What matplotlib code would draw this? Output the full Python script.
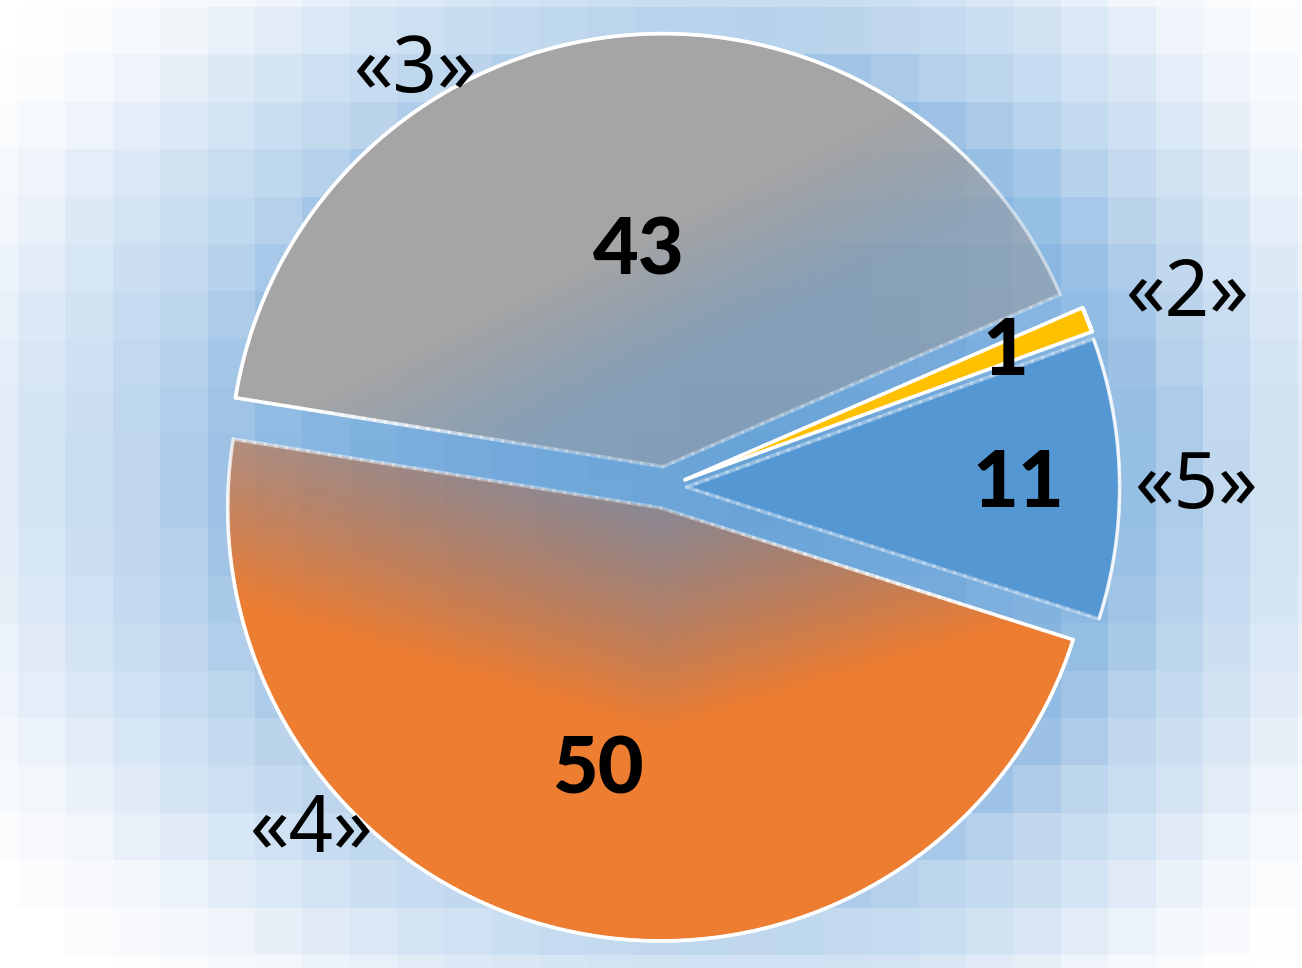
import numpy as np
import matplotlib
matplotlib.use("Agg")
import matplotlib.pyplot as plt
from matplotlib.colors import LinearSegmentedColormap
from matplotlib.collections import LineCollection

# ---------------- data ----------------
labels = ["«3»", "«2»", "«5»", "«4»"]
values = [43, 1, 11, 50]
colors = ["#A5A5A5", "#FFC000", "#5597D3", "#ED7D31"]

# ---------------- style ----------------
W, H = 1302, 968
CENTER = (665.6, 480.5)
RADIUS = 433.0
EXPLODE = 21.0
START = 170.85
NUM_FONT = ["Lato", "DejaVu Sans"]
CAT_FONT = ["Noto Sans", "DejaVu Sans"]
FS_NUM = 57
FS_CAT = 56
# label placement (angle offset from wedge mid-angle, radius factor) - baseline anchor
num_pos = [(0.0, 0.495), (-3.4, 0.826), (-4.3, 0.815), (0.9, 0.723)]
cat_pos = [(25.1, 1.080), (-3.5, 1.270), (-3.3, 1.228), (-30.7, 1.174)]

fig = plt.figure(figsize=(W / 100, H / 100), dpi=100)
ax = fig.add_axes([0, 0, 1, 1])

# ---------------- background mosaic ----------------
bs = 47.4
gx, gy = np.meshgrid(np.arange(W) + 0.5, np.arange(H) + 0.5)
bx = np.floor((gx - 18) / bs) * bs + 18 + bs / 2
by = np.floor((gy - 7) / bs) * bs + 7 + bs / 2
cx, cy = 760, 470
rx = np.where(bx < cx, 760.0, 560.0)
ry = 560.0
V = np.sqrt(((bx - cx) / rx) ** 2 + ((by - cy) / ry) ** 2)
stops = [(0.0, (104, 163, 215)), (0.4, (118, 171, 220)), (0.6, (136, 183, 225)),
         (0.7, (158, 195, 230)), (0.8, (188, 213, 237)), (0.9, (205, 224, 242)),
         (1.0, (224, 235, 247)), (1.1, (243, 247, 252)), (1.25, (255, 255, 255))]
bg_cmap = LinearSegmentedColormap.from_list(
    "bg", [(s / 1.25, tuple(c / 255 for c in col)) for s, col in stops])
ax.imshow(V, cmap=bg_cmap, vmin=0, vmax=1.25, extent=[0, W, 0, H], origin="upper",
          interpolation="nearest", aspect="auto", zorder=0)

# ---------------- pie ----------------
wedges, _ = ax.pie(values, colors=colors, startangle=START, counterclock=False,
                   radius=RADIUS, center=CENTER, explode=[EXPLODE] * len(values),
                   wedgeprops=dict(linewidth=0, edgecolor="none"), frame=True)
for w in wedges:
    c = np.array(w.center, float)
    off = c - np.array(CENTER)
    d = np.hypot(*off)
    if d > 0 and abs(d - EXPLODE) > 1e-3:
        w.set_center(tuple(np.array(CENTER) + off * EXPLODE / d))

ax.set_xlim(0, W)
ax.set_ylim(0, H)
ax.axis("off")


def t_gray(x, y):
    p = (480 - y) + 0.5 * (700 - x)
    return np.clip((p - 120) / 150, 0, 1)


def t_orange(x, y):
    p = (y - 480) + 0.3 * np.abs(x - 660)
    return np.clip((p - 30) / 220, 0, 1)


grad = {
    0: (t_gray, (150, 152, 156), (165, 165, 165), 0.55),
    3: (t_orange, (175, 100, 62), (237, 125, 49), 0.45),
}


def outline(w, n=400):
    cxw, cyw = w.center
    th = np.radians(np.linspace(w.theta1, w.theta2, n))
    xs = np.concatenate([[cxw], cxw + w.r * np.cos(th), [cxw]])
    ys = np.concatenate([[cyw], cyw + w.r * np.sin(th), [cyw]])
    pts = []
    for i in range(len(xs) - 1):
        seg_n = 40 if (i == 0 or i == len(xs) - 2) else 1
        for k in range(seg_n):
            f = k / seg_n
            pts.append((xs[i] + (xs[i + 1] - xs[i]) * f, ys[i] + (ys[i + 1] - ys[i]) * f))
    pts.append((xs[-1], ys[-1]))
    return np.array(pts)


for i, w in enumerate(wedges):
    pts = outline(w)
    segs = np.stack([pts[:-1], pts[1:]], axis=1)
    mid = segs.mean(axis=1)
    if i in grad:
        fn, c0, c1, a0 = grad[i]
        w.set_facecolor("none")
        t = fn(gx, gy)
        rgba = np.zeros((H, W, 4))
        for k in range(3):
            rgba[..., k] = (c0[k] + (c1[k] - c0[k]) * t) / 255
        rgba[..., 3] = a0 + (1 - a0) * t
        im = ax.imshow(rgba, extent=[0, W, 0, H], origin="upper",
                       interpolation="nearest", zorder=1.5, aspect="auto")
        im.set_clip_path(w)
        te = fn(mid[:, 0], H - mid[:, 1])
        ea = 0.3 + 0.7 * te
    elif i == 2:
        ea = np.full(len(segs), 0.35)
    else:
        ea = np.full(len(segs), 1.0)
    ecol = np.zeros((len(segs), 4))
    ecol[:, :3] = 1
    ecol[:, 3] = ea
    lc = LineCollection(segs, colors=ecol, linewidths=2.6, capstyle="round",
                        joinstyle="round", zorder=2)
    ax.add_collection(lc)

# ---------------- labels ----------------
for i, w in enumerate(wedges):
    mid_ang = (w.theta1 + w.theta2) / 2
    da, rf = num_pos[i]
    a = np.radians(mid_ang + da)
    ax.text(CENTER[0] + rf * RADIUS * np.cos(a), CENTER[1] + rf * RADIUS * np.sin(a),
            str(values[i]), ha="center", va="baseline", fontsize=FS_NUM,
            fontweight="black", family=NUM_FONT, color="black", zorder=3)
    da, rf = cat_pos[i]
    a = np.radians(mid_ang + da)
    ax.text(CENTER[0] + rf * RADIUS * np.cos(a), CENTER[1] + rf * RADIUS * np.sin(a),
            labels[i], ha="center", va="baseline", fontsize=FS_CAT,
            family=CAT_FONT, color="black", zorder=3)

fig.savefig("out.png", dpi=100)
